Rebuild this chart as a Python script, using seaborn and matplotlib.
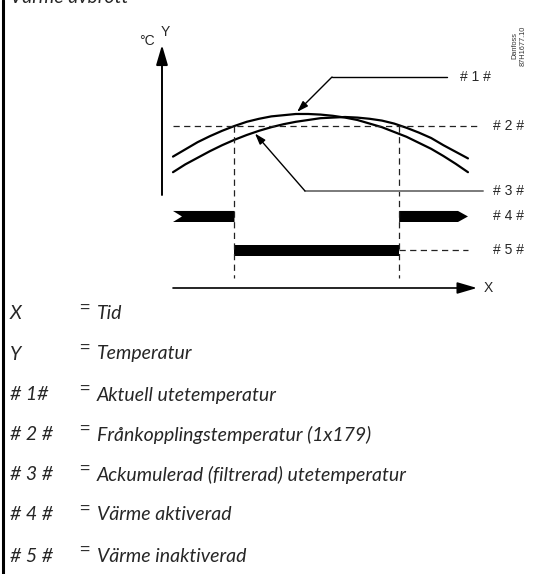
import matplotlib
matplotlib.use("Agg")
import matplotlib.pyplot as plt
from matplotlib.lines import Line2D
import seaborn as sns
import pandas as pd

# --- data -------------------------------------------------------------
hours = list(range(25))
actual_temp = [12.9, 14.1, 15.3, 16.3, 17.2, 18.0, 18.7, 19.2, 19.6, 19.8,
               20.0, 20.0, 19.9, 19.7, 19.4, 19.0, 18.4, 17.8, 17.0, 16.2,
               15.2, 14.2, 13.0, 11.7, 10.3]
accum_temp = [10.3, 11.6, 12.7, 13.8, 14.8, 15.7, 16.5, 17.2, 17.8, 18.3,
              18.7, 19.0, 19.3, 19.4, 19.5, 19.4, 19.2, 18.9, 18.4, 17.7,
              16.9, 16.0, 14.8, 13.7, 12.6]
cutoff_temp = 18.0          # 1x179
heat_off_hour = 5.0         # heating switched off
heat_on_hour = 18.4         # heating switched on again
marker_labels = ["# 1 #", "# 2 #", "# 3 #", "# 4 #", "# 5 #"]
legend_keys = ["X", "Y", "# 1#", "# 2 #", "# 3 #", "# 4 #", "# 5 #"]
legend_texts = ["Tid", "Temperatur", "Aktuell utetemperatur",
                "Frånkopplingstemperatur (1x179)",
                "Ackumulerad (filtrerad) utetemperatur",
                "Värme aktiverad", "Värme inaktiverad"]
title_text = "Värme avbrott"

# --- figure -----------------------------------------------------------
sns.set_theme(style="white")
plt.rcParams["font.family"] = ["Liberation Sans", "DejaVu Sans"]

W, H = 536, 574
fig = plt.figure(figsize=(W / 100, H / 100), dpi=100)
fig.patch.set_facecolor("white")


def fx(x):
    return x / W


def fy(y):
    return 1 - y / H


ax = fig.add_axes([fx(150), fy(300), 360 / W, 275 / H])
ax.set_xlim(-1.871, 27.42)
ax.set_ylim(-11.0, 34.83)
ax.axis("off")

df = pd.DataFrame({"hour": hours, "actual": actual_temp, "accum": accum_temp})
sns.lineplot(data=df, x="hour", y="actual", ax=ax, color="black", lw=1.6)
sns.lineplot(data=df, x="hour", y="accum", ax=ax, color="black", lw=1.6)

dash = (0, (5, 3.5))
t0, t1 = hours[0], hours[-1]
# cut-off temperature
ax.plot([t0, 24.8], [cutoff_temp, cutoff_temp], color="#222222", lw=0.9, ls=dash)
# switching instants
for t in (heat_off_hour, heat_on_hour):
    ax.plot([t, t], [cutoff_temp, -7.33], color="#222222", lw=0.9, ls=dash)

# axes arrows
arrow_kw = dict(arrowstyle="-|>,head_length=0.75,head_width=0.22",
                color="black", lw=1.4, mutation_scale=16, shrinkA=0, shrinkB=0)
ax.annotate("", xy=(-0.895, 31.5), xytext=(-0.895, 6.5), arrowprops=arrow_kw)
ax.annotate("", xy=(24.73, -9.0), xytext=(t0, -9.0),
            arrowprops=dict(arrow_kw, lw=1.2))
ax.text(-0.6, 33.6, "Y", fontsize=10, ha="center", va="center")
ax.text(-1.45, 32.1, "°C", fontsize=10, ha="right", va="center")
ax.text(25.3, -9.0, "X", fontsize=10, ha="left", va="center")

# leaders
lead_kw = dict(arrowstyle="-|>,head_length=0.55,head_width=0.18",
               mutation_scale=12, shrinkA=0, shrinkB=0)
ax.plot([12.94, 22.29], [26.17, 26.17], color="black", lw=1.0)
ax.annotate("", xy=(10.1, 20.35), xytext=(12.94, 26.17),
            arrowprops=dict(lead_kw, color="black", lw=1.0))
ax.plot([10.74, 25.2], [7.17, 7.17], color="#7a7a7a", lw=1.4)
ax.annotate("", xy=(6.67, 16.75), xytext=(10.74, 7.17),
            arrowprops=dict(lead_kw, color="black", lw=1.0))

# heating on/off bars
row4, row5, half = 2.92, -2.75, 0.92
ax.fill([t0, heat_off_hour, heat_off_hour, t0, t0 + 0.73],
        [row4 + half, row4 + half, row4 - half, row4 - half, row4],
        color="black", lw=0)
ax.fill([heat_on_hour, 23.19, t1, 23.19, heat_on_hour],
        [row4 + half, row4 + half, row4, row4 - half, row4 - half],
        color="black", lw=0)
ax.fill([heat_off_hour, heat_on_hour, heat_on_hour, heat_off_hour],
        [row5 + half, row5 + half, row5 - half, row5 - half],
        color="black", lw=0)
ax.plot([heat_on_hour, t1], [row5, row5], color="#222222", lw=0.9, ls=dash)

# marker labels
label_pos = [(23.35, 26.17), (26.04, cutoff_temp), (26.04, 7.17),
             (26.04, row4), (26.04, row5)]
for lbl, (x, y) in zip(marker_labels, label_pos):
    ax.text(x, y, lbl, fontsize=10, ha="left", va="center")

# document reference
fig.text(fx(519), fy(66), "Danfoss\n87H1677.10", fontsize=5.3, rotation=90,
         ha="center", va="bottom", color="#333333", linespacing=1.1)

# title (runs off the top of the page)
fig.text(fx(10), fy(3), title_text, fontsize=14, family="Lato", style="italic",
         ha="left", va="baseline")

# explanation block
rows_y = [314, 354, 395, 435, 475, 515, 556]
for key, txt, y in zip(legend_keys, legend_texts, rows_y):
    fig.text(fx(10), fy(y), key, fontsize=14, family="Lato", style="italic",
             ha="left", va="center")
    fig.text(fx(79), fy(y - 6), "=", fontsize=12.5, family="Liberation Sans",
             ha="left", va="center")
    fig.text(fx(97), fy(y), txt, fontsize=14, family="Lato", style="italic",
             ha="left", va="center")

# page edge
fig.add_artist(Line2D([fx(2.5), fx(2.5)], [0, 1], color="black", lw=2.2,
                      transform=fig.transFigure))

fig.savefig("out.png", dpi=100, facecolor="white")
